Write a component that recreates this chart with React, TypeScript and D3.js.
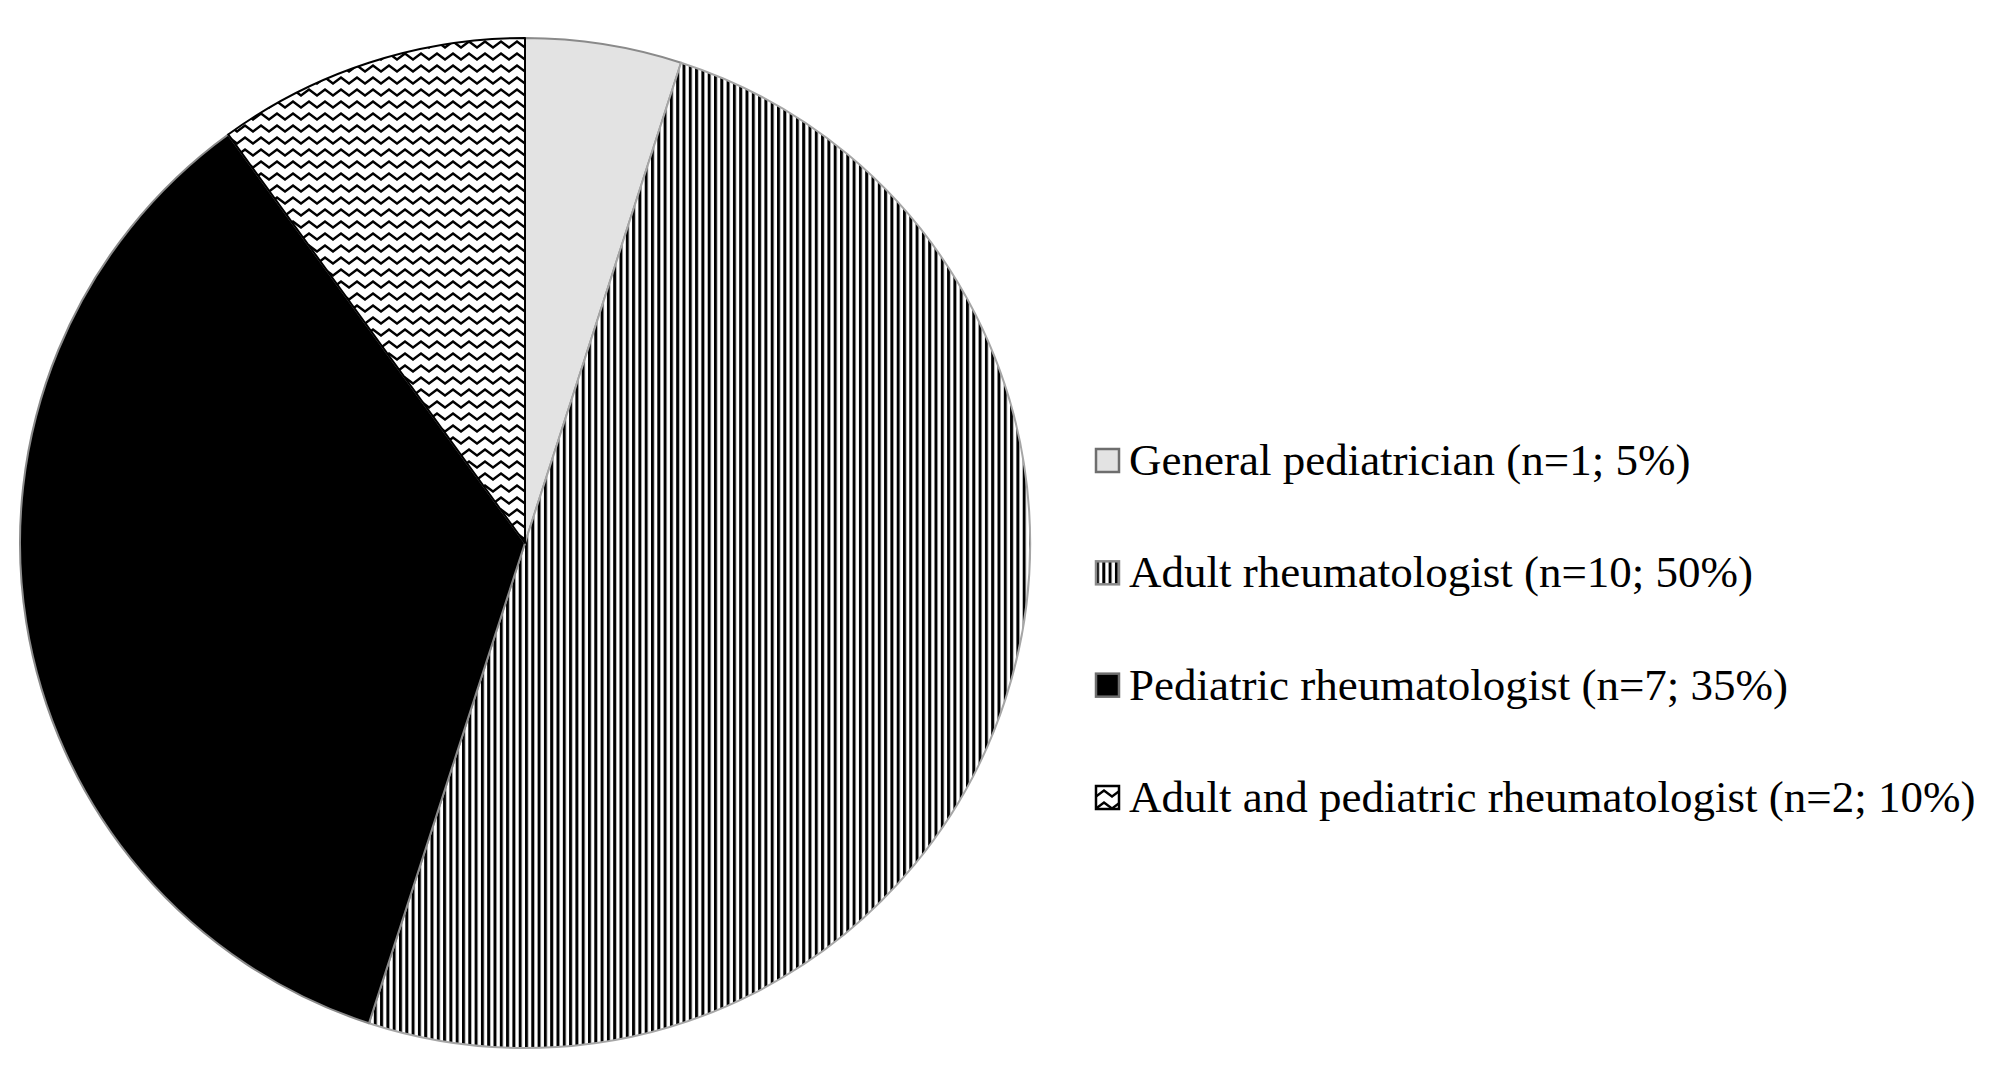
import React, { useEffect, useRef } from 'react';
import * as d3 from 'd3';

// Respondents by specialty
const categories = [
  'General pediatrician',
  'Adult rheumatologist',
  'Pediatric rheumatologist',
  'Adult and pediatric rheumatologist',
];
const counts = [1, 10, 7, 2];
const percents = [5, 50, 35, 10];

const fills = ['#e3e3e3', 'url(#vstripes)', '#000000', 'url(#zigzag)'];
const strokes = ['#8a8a8a', '#a6a6a6', '#8a8a8a', '#000000'];
const legendBorders = ['#6e6e6e', '#8a8a8a', '#6e6e6e', '#000000'];

const WIDTH = 2008;
const HEIGHT = 1084;

const App: React.FC = () => {
  const svgRef = useRef<SVGSVGElement>(null);

  useEffect(() => {
    if (!svgRef.current) return;
    const svg = d3.select(svgRef.current);
    svg.selectAll('*').remove();

    const defs = svg.append('defs');

    // vertical stripes
    const stripes = defs.append('pattern')
      .attr('id', 'vstripes')
      .attr('patternUnits', 'userSpaceOnUse')
      .attr('width', 6.3)
      .attr('height', 10);
    stripes.append('rect').attr('width', 6.3).attr('height', 10).attr('fill', '#fff');
    stripes.append('rect').attr('width', 3).attr('height', 10).attr('fill', '#000');

    // zigzag waves
    const zig = defs.append('pattern')
      .attr('id', 'zigzag')
      .attr('patternUnits', 'userSpaceOnUse')
      .attr('width', 16)
      .attr('height', 12);
    zig.append('rect').attr('width', 16).attr('height', 12).attr('fill', '#fff');
    zig.append('path')
      .attr('d', 'M-4,5.5 L0,8.5 L8,2.5 L16,8.5 L20,5.5')
      .attr('fill', 'none')
      .attr('stroke', '#000')
      .attr('stroke-width', 2.4);

    const cx = 525;
    const cy = 543;
    const radius = 505;

    const pie = d3.pie<number>()
      .sort(null)
      .value(d => d)
      .startAngle(0)
      .endAngle(2 * Math.PI);

    const arc = d3.arc<d3.PieArcDatum<number>>()
      .innerRadius(0)
      .outerRadius(radius);

    const g = svg.append('g').attr('transform', `translate(${cx},${cy})`);

    g.selectAll('path.slice')
      .data(pie(counts))
      .enter()
      .append('path')
      .attr('class', 'slice')
      .attr('d', arc)
      .attr('fill', (_, i) => fills[i])
      .attr('stroke', (_, i) => strokes[i])
      .attr('stroke-width', 2)
      .attr('stroke-linejoin', 'round');

    // Legend
    const legendY = d3.scalePoint<number>()
      .domain(d3.range(categories.length))
      .range([475, 812]);

    const legend = svg.append('g');
    const items = legend.selectAll('g.item')
      .data(categories)
      .enter()
      .append('g')
      .attr('class', 'item')
      .attr('transform', (_, i) => `translate(1096,${legendY(i)})`);

    items.append('rect')
      .attr('x', 0)
      .attr('y', -26)
      .attr('width', 23)
      .attr('height', 23)
      .attr('fill', (_, i) => fills[i])
      .attr('stroke', (_, i) => legendBorders[i])
      .attr('stroke-width', 2.5);

    items.append('text')
      .attr('x', 33)
      .attr('y', 0)
      .attr('font-family', '"Liberation Serif", "Times New Roman", serif')
      .attr('font-size', 45)
      .attr('fill', '#000')
      .text((d, i) => `${d} (n=${counts[i]}; ${percents[i]}%)`);
  }, []);

  return (
    <div style={{ position: 'absolute', left: 0, top: 0, width: WIDTH, height: HEIGHT, background: '#fff' }}>
      <svg ref={svgRef} width={WIDTH} height={HEIGHT} style={{ display: 'block' }} />
    </div>
  );
};

export default App;
